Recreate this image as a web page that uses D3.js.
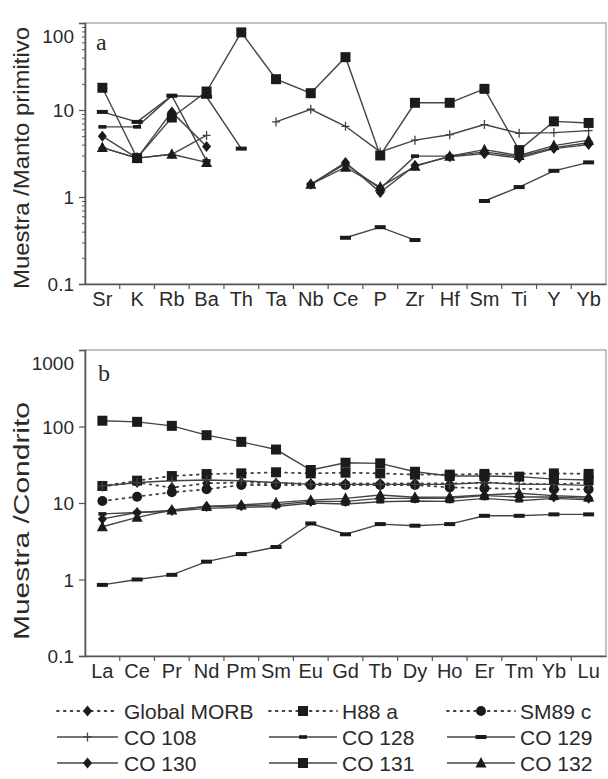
<!DOCTYPE html>
<html><head><meta charset="utf-8">
<script src="https://cdn.jsdelivr.net/npm/d3@7"></script>
<style>body{margin:0;background:#fff}svg{display:block}</style>
</head><body>
<svg id="c" width="608" height="779"></svg>
<script>
// ---------- DATA ----------
const catsA = ["Sr","K","Rb","Ba","Th","Ta","Nb","Ce","P","Zr","Hf","Sm","Ti","Y","Yb"];
const catsB = ["La","Ce","Pr","Nd","Pm","Sm","Eu","Gd","Tb","Dy","Ho","Er","Tm","Yb","Lu"];
const ticksA = [0.1, 1, 10, 100];
const ticksB = [0.1, 1, 10, 100, 1000];

const seriesNames = ["Global MORB","H88 a","SM89 c","CO 108","CO 128","CO 129","CO 130","CO 131","CO 132"];
const seriesMarkers = ["diamond","square","circle","plus","dashSmall","dashWide","diamond","square","triangle"];
const seriesDotted = [true,true,true,false,false,false,false,false,false];

// Panel a: Muestra / Manto primitivo
const aCO108 = [3.7, 2.8, 3.1, 5.1, null, 7.3, 10.2, 6.5, 3.3, 4.5, 5.2, 6.8, 5.4, 5.5, 5.8];
const aCO128 = [6.4, 6.4, 14.6, 2.6, null, null, 1.4, 2.4, 1.25, 2.95, 2.95, 3.3, 2.9, 3.7, 4.2];
const aCO129 = [9.5, 7.3, 14.6, 14.2, 3.6, null, null, 0.34, 0.45, 0.32, null, 0.9, 1.3, 2.0, 2.5];
const aCO130 = [5.0, 2.8, 9.5, 3.8, null, null, 1.4, 2.5, 1.13, 2.3, 2.9, 3.15, 2.8, 3.6, 4.0];
const aCO131 = [18, 2.8, 8.2, 16.3, 78, 22.6, 15.6, 40.5, 3.0, 12.1, 12.1, 17.5, 3.46, 7.4, 7.1];
const aCO132 = [3.7, 2.8, 3.1, 2.5, null, null, 1.4, 2.2, 1.3, 2.25, 2.95, 3.5, 3.0, 3.9, 4.5];

// Panel b: Muestra / Condrito
const bGlobalMORB = [16.5, 18.5, 15.9, 18.1, 18.5, 18.2, 18.0, 18.0, 18.0, 18.0, 18.0, 18.5, null, 17.5, 18.5];
const bH88a       = [16.7, 19.6, 22.5, 23.9, 24.4, 25.2, 24.4, 24.9, 24.4, 23.5, 23.5, 24.0, null, 24.4, 24.0];
const bSM89c      = [10.6, 12.1, 13.8, 15.1, 17.2, 17.2, 17.2, 17.2, 17.2, 17.2, 16.0, 15.6, null, 15.1, 15.1];
const bCO108 = [16.7, 18.5, 19.5, 20.0, 19.5, 18.5, 17.5, 17.5, 17.5, 17.5, 17.5, 18.5, 17.5, 17.5, 17.0];
const bCO128 = [7.2, 7.5, 7.8, 8.5, 8.8, 9.0, 10.0, 9.7, 10.4, 10.6, 10.5, 11.5, 10.7, 11.5, 11.0];
const bCO129 = [0.85, 1.0, 1.15, 1.71, 2.15, 2.66, 5.4, 3.9, 5.3, 5.05, 5.3, 6.8, 6.8, 7.1, 7.1];
const bCO130 = [6.2, 7.5, 8.0, 9.0, 9.2, 9.5, 10.5, 10.5, 11.5, 11.5, 11.5, 12.5, 12.0, 12.0, 11.5];
const bCO131 = [119, 115, 102, 77, 63, 50, 27, 33.6, 33, 25.6, 22.5, 22.5, 22.1, 20.5, 20.0];
const bCO132 = [4.9, 6.5, 8.1, 9.0, 9.4, 10.1, 10.9, 11.5, 12.7, 11.9, 12.0, 12.7, 13.4, 12.5, 12.0];

// ---------- DRAWING ----------
const svg = d3.select("#c");
const FONT = "'Liberation Sans', Arial, Helvetica, sans-serif";
const LINE = "#444", MARK = "#1b1b1b", AXIS = "#555", FRAME = "#9a9a9a";

function drawMarker(g, type, x, y, k = 1) {
  const m = g.append("g").attr("transform", `translate(${x},${y}) scale(${k})`);
  if (type === "square") {
    m.append("rect").attr("x", -5).attr("y", -5).attr("width", 10).attr("height", 10).attr("fill", MARK);
  } else if (type === "circle") {
    m.append("circle").attr("r", 5).attr("fill", MARK);
  } else if (type === "triangle") {
    m.append("path").attr("d", "M0,-6L5.5,4.5L-5.5,4.5Z").attr("fill", MARK);
  } else if (type === "diamond") {
    m.append("path").attr("d", "M0,-5.5L4.5,0L0,5.5L-4.5,0Z").attr("fill", MARK);
  } else if (type === "dashWide") {
    m.append("rect").attr("x", -5.5).attr("y", -2).attr("width", 11).attr("height", 4).attr("fill", MARK);
  } else if (type === "dashSmall") {
    m.append("rect").attr("x", -4).attr("y", -1.8).attr("width", 8).attr("height", 3.6).attr("fill", MARK);
  } else if (type === "plus") {
    m.append("path").attr("d", "M-4,0H4M0,-4.5V4.5").attr("stroke", LINE).attr("stroke-width", 1.3).attr("fill", "none");
  }
}

function styleOf(name) {
  const i = seriesNames.indexOf(name);
  return { marker: seriesMarkers[i], dotted: seriesDotted[i] };
}

function drawPanel(cfg) {
  const left = 85, right = 606;
  const x = d3.scaleBand().domain(cfg.cats).range([left, right]).padding(0);
  const bw = x.bandwidth();
  const cx = c => x(c) + bw / 2;
  const y = d3.scaleLog().domain(cfg.domain).range([cfg.bottom, cfg.top]);
  const g = svg.append("g");

  g.append("rect").attr("x", left).attr("y", cfg.top).attr("width", right - left).attr("height", cfg.bottom - cfg.top)
    .attr("fill", "none").attr("stroke", FRAME).attr("stroke-width", 1.2);

  const yAxis = d3.axisLeft(y).tickValues(cfg.ticks).tickSize(6).tickPadding(5)
    .tickFormat(d => d3.format("~g")(d));
  const ya = g.append("g").attr("transform", `translate(${left},0)`).call(yAxis);
  ya.select(".domain").attr("stroke", AXIS).attr("stroke-width", 1.6);
  ya.selectAll(".tick line").attr("stroke", AXIS).attr("stroke-width", 1.2);
  ya.selectAll(".tick text").attr("font-family", FONT).attr("font-size", 19).attr("fill", "#2a2a2a")
    .attr("dy", d => d === cfg.domain[1] ? "1.0em" : "0.36em");
  if (cfg.minor) {
    const minors = [];
    cfg.ticks.slice(0, -1).forEach(t => { for (let k = 2; k <= 9; k++) minors.push(t * k); });
    const ym = g.append("g").attr("transform", `translate(${left},0)`)
      .call(d3.axisLeft(y).tickValues(minors).tickSize(3).tickFormat(""));
    ym.select(".domain").remove();
    ym.selectAll(".tick line").attr("stroke", AXIS).attr("stroke-width", 1);
  }

  const xa = g.append("g").attr("transform", `translate(0,${cfg.bottom})`)
    .call(d3.axisBottom(x).tickSize(0).tickPadding(8));
  xa.select(".domain").attr("stroke", AXIS).attr("stroke-width", 1.6);
  xa.selectAll(".tick text").attr("font-family", FONT).attr("font-size", 20).attr("fill", "#2a2a2a");
  const bounds = cfg.cats.slice(1).map(c => x(c));
  g.append("g").selectAll("line").data(bounds).join("line")
    .attr("x1", d => d).attr("x2", d => d).attr("y1", cfg.bottom).attr("y2", cfg.bottom + 5)
    .attr("stroke", AXIS).attr("stroke-width", 1.2);

  const lineGen = d3.line().defined(d => d.v != null).x(d => cx(d.c)).y(d => y(d.v));
  cfg.series.forEach(s => {
    const st = styleOf(s.name);
    let pts = cfg.cats.map((c, i) => ({ c, v: s.values[i] }));
    if (st.dotted) pts = pts.filter(p => p.v != null);
    g.append("path").datum(pts).attr("d", lineGen).attr("fill", "none")
      .attr("stroke", LINE).attr("stroke-width", st.dotted ? 1.8 : 1.4)
      .attr("stroke-dasharray", st.dotted ? "1.8,5" : null)
      .attr("stroke-linecap", st.dotted ? "round" : "butt");
  });
  cfg.series.forEach(s => {
    const st = styleOf(s.name);
    cfg.cats.forEach((c, i) => {
      const v = s.values[i];
      if (v != null) drawMarker(g, st.marker, cx(c), y(v));
    });
  });

  g.append("text").attr("x", cfg.letterX).attr("y", cfg.letterY).text(cfg.letter)
    .attr("font-family", "'Liberation Serif', 'Times New Roman', serif").attr("font-size", 24).attr("fill", "#2a2a2a");

  g.append("text").attr("transform", `translate(29,${cfg.titleY}) rotate(-90)`)
    .attr("text-anchor", "middle").attr("font-family", FONT).attr("font-size", 22).attr("fill", "#2a2a2a")
    .attr("textLength", cfg.titleLen).attr("lengthAdjust", "spacingAndGlyphs")
    .text(cfg.title);
}

drawPanel({
  cats: catsA, top: 23, bottom: 284, domain: [0.1, 100], ticks: ticksA, minor: true,
  series: [
    { name: "CO 108", values: aCO108 }, { name: "CO 128", values: aCO128 },
    { name: "CO 129", values: aCO129 }, { name: "CO 130", values: aCO130 },
    { name: "CO 131", values: aCO131 }, { name: "CO 132", values: aCO132 }
  ],
  letter: "a", letterX: 96, letterY: 50, title: "Muestra /Manto primitivo", titleY: 158, titleLen: 262
});

drawPanel({
  cats: catsB, top: 350, bottom: 656, domain: [0.1, 1000], ticks: ticksB, minor: false,
  series: [
    { name: "Global MORB", values: bGlobalMORB }, { name: "H88 a", values: bH88a },
    { name: "SM89 c", values: bSM89c }, { name: "CO 108", values: bCO108 },
    { name: "CO 128", values: bCO128 }, { name: "CO 129", values: bCO129 },
    { name: "CO 130", values: bCO130 }, { name: "CO 131", values: bCO131 },
    { name: "CO 132", values: bCO132 }
  ],
  letter: "b", letterX: 98, letterY: 381, title: "Muestra /Condrito", titleY: 521, titleLen: 238
});

const legCols = [{ x0: 57, x1: 118, tx: 124 }, { x0: 269, x1: 337, tx: 342 }, { x0: 447, x1: 515, tx: 520 }];
const legRows = [711, 737, 763];
const lg = svg.append("g");
seriesNames.forEach((name, i) => {
  const col = legCols[i % 3], yy = legRows[Math.floor(i / 3)];
  const st = styleOf(name);
  lg.append("line").attr("x1", col.x0).attr("x2", col.x1).attr("y1", yy).attr("y2", yy)
    .attr("stroke", LINE).attr("stroke-width", st.dotted ? 1.8 : 1.4)
    .attr("stroke-dasharray", st.dotted ? "1.8,5" : null)
    .attr("stroke-linecap", st.dotted ? "round" : "butt");
  drawMarker(lg, st.marker, (col.x0 + col.x1) / 2, yy);
  lg.append("text").attr("x", col.tx).attr("y", yy).attr("dy", "0.36em").text(name)
    .attr("font-family", FONT).attr("font-size", 21).attr("fill", "#2a2a2a");
});
</script>
</body></html>
